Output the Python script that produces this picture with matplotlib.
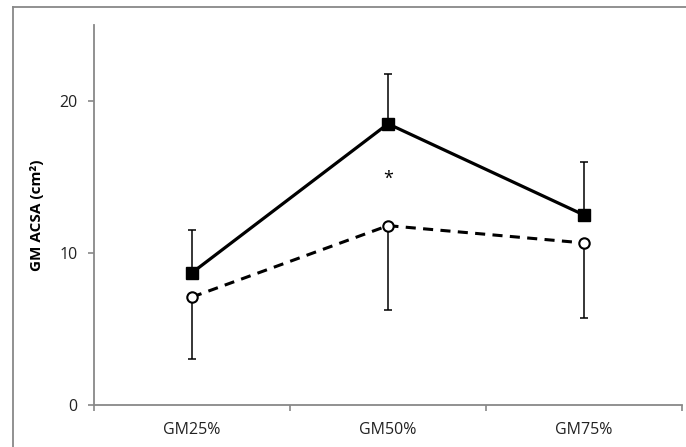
import matplotlib
matplotlib.use("Agg")
import matplotlib.pyplot as plt
from matplotlib.lines import Line2D
import numpy as np

categories = ["GM25%", "GM50%", "GM75%"]
filled_mean = [8.7, 18.5, 12.5]
filled_upper = [11.5, 21.8, 16.0]
open_mean = [7.1, 11.8, 10.66]
open_lower = [3.05, 6.23, 5.72]
yticks = [0, 10, 20]
ylabel = "GM ACSA (cm²)"
sig_label = "*"
sig_index = 1
sig_y = 14.9

plt.rcParams['font.family'] = ['Open Sans', 'DejaVu Sans']

fig = plt.figure(figsize=(6.86, 4.47), dpi=100)
ax = fig.add_axes([94/686, 1-405/447, (682-94)/686, (405-25)/447])

x = np.arange(len(categories))
fm = np.array(filled_mean); fu = np.array(filled_upper)
om = np.array(open_mean); ol = np.array(open_lower)

ax.errorbar(x, fm, yerr=[np.zeros_like(fm), fu - fm], fmt='none',
            ecolor='black', elinewidth=1.1, capsize=2.8, capthick=1.1, zorder=2)
ax.errorbar(x, om, yerr=[om - ol, np.zeros_like(om)], fmt='none',
            ecolor='black', elinewidth=1.1, capsize=2.8, capthick=1.1, zorder=2)

ax.plot(x, fm, color='black', lw=2.3, marker='s', markersize=8.5,
        markerfacecolor='black', markeredgecolor='black', zorder=4)
ax.plot(x, om, color='black', lw=2.2, linestyle=(0, (3.3, 2.4)), marker='o',
        markersize=7.5, markerfacecolor='white', markeredgecolor='black',
        markeredgewidth=1.5, zorder=3)

ax.text(x[sig_index], sig_y, sig_label, ha='center', va='center', fontsize=13)

ax.set_xlim(-0.5, len(categories) - 0.5)
ax.set_ylim(0, 25)
ax.set_yticks(yticks)
ax.set_xticks(x)
ax.set_xticklabels(categories)
ax.set_xticks(np.arange(-0.5, len(categories)), minor=True)
ax.tick_params(axis='x', which='major', length=0, pad=12, labelsize=11.5, labelcolor='#222222')
ax.tick_params(axis='x', which='minor', length=4, width=1.2, color='#888888', direction='out')
ax.tick_params(axis='y', length=4, width=1.2, color='#888888', pad=8, labelsize=11.5, labelcolor='#222222')

for s in ['top', 'right']:
    ax.spines[s].set_visible(False)
for s in ['left', 'bottom']:
    ax.spines[s].set_color('#888888')
    ax.spines[s].set_linewidth(1.3)

ax.set_ylabel(ylabel, fontsize=11, fontweight='bold', labelpad=8)
ax.yaxis.set_label_coords(-(94-44)/(682-94), 0.5)

# outer frame
fx = 12.5/686; fy = 1 - 6.5/447
fig.add_artist(Line2D([fx, fx], [0, fy], transform=fig.transFigure, color='#888888', lw=1.3))
fig.add_artist(Line2D([fx, 1], [fy, fy], transform=fig.transFigure, color='#888888', lw=1.3))

fig.savefig("out.png", dpi=100)
